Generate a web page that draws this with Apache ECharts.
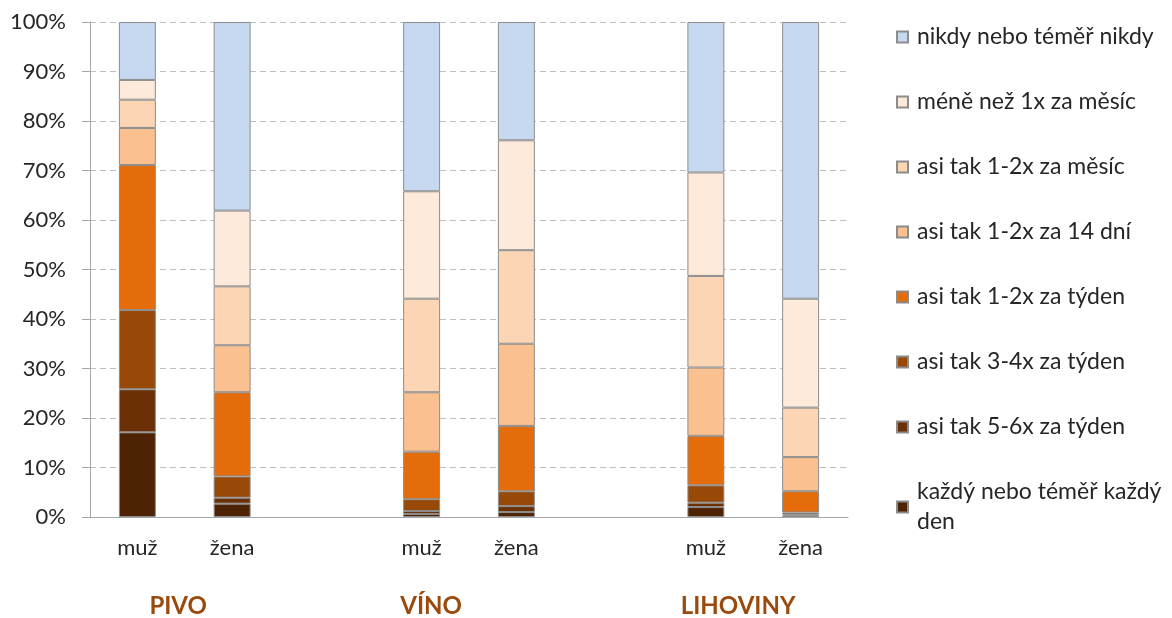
<!DOCTYPE html>
<html><head><meta charset="utf-8">
<script src="https://cdn.jsdelivr.net/npm/echarts@6/dist/echarts.min.js"></script>
<style>html,body{margin:0;padding:0;background:#fff}#c{width:1172px;height:618px}</style>
</head><body><div id="c"></div>
<script>
const categories = ['muž', 'žena', '', 'muž', 'žena', '', 'muž', 'žena'];
const groupLabels = ['PIVO', 'VÍNO', 'LIHOVINY'];
const groupPositions = [0.93, 3.6, 6.84]; // in category-slot units from the left edge
const yTicks = [0, 10, 20, 30, 40, 50, 60, 70, 80, 90, 100];

// values in %, order of categories (blank slots = null)
const kazdy   = [17.1, 2.7, null, 0.6, 1.0, null, 2.0, 0.3];
const t56     = [8.7, 1.2, null, 0.6, 1.2, null, 0.9, 0.2];
const t34     = [16.0, 4.3, null, 2.4, 3.0, null, 3.5, 0.4];
const tyden   = [29.3, 17.0, null, 9.6, 13.2, null, 10.0, 4.3];
const dni14   = [7.5, 9.5, null, 12.0, 16.6, null, 13.8, 6.9];
const mesic   = [5.7, 11.9, null, 18.9, 18.9, null, 18.5, 10.0];
const mene    = [4.0, 15.3, null, 21.7, 22.2, null, 20.9, 22.0];
const nikdy   = [11.7, 38.1, null, 34.2, 23.9, null, 30.4, 55.9];

const seriesDefs = [
  ['každý nebo téměř každý den', kazdy, '#4E2304'],
  ['asi tak 5-6x za týden', t56, '#6B3006'],
  ['asi tak 3-4x za týden', t34, '#984807'],
  ['asi tak 1-2x za týden', tyden, '#E46C0A'],
  ['asi tak 1-2x za 14 dní', dni14, '#FAC090'],
  ['asi tak 1-2x za měsíc', mesic, '#FCD5B5'],
  ['méně než 1x za měsíc', mene, '#FDEADA'],
  ['nikdy nebo téměř nikdy', nikdy, '#C6D9F1']
];

const font = 'Lato, "Open Sans", sans-serif';
const chart = echarts.init(document.getElementById('c'), null, {renderer: 'canvas'});
chart.setOption({
  animation: false,
  textStyle: {fontFamily: font},
  grid: {left: 90, right: 324, top: 22, bottom: 101},
  legend: {
    orient: 'vertical', left: 896, top: 22, padding: 0,
    itemWidth: 11, itemHeight: 11, itemGap: 35,
    icon: 'rect',
    data: seriesDefs.map(s => s[0]).reverse(),
    formatter: n => n === 'každý nebo téměř každý den' ? 'každý nebo téměř každý\nden' : n,
    textStyle: {fontSize: 23, color: '#262626', fontFamily: font, lineHeight: 30, padding: [0, 0, 0, 4]}
  },
  xAxis: [{
    type: 'category', data: categories,
    axisLine: {lineStyle: {color: '#A6A6A6'}},
    axisTick: {length: 8, lineStyle: {color: '#A6A6A6'}},
    axisLabel: {fontSize: 22, color: '#262626', margin: 20, fontFamily: font, interval: 0}
  }, {
    type: 'value', min: 0, max: 8, position: 'bottom',
    show: false
  }],
  yAxis: {
    type: 'value', min: 0, max: 100, interval: 10,
    axisLine: {show: true, lineStyle: {color: '#A6A6A6'}},
    axisTick: {show: true, inside: false, length: 8, lineStyle: {color: '#A6A6A6'}},
    axisLabel: {fontSize: 22, color: '#262626', margin: 24, fontFamily: font,
      formatter: v => yTicks.includes(v) ? v + '%' : ''},
    splitLine: {lineStyle: {color: '#BFBFBF', type: [6, 4]}}
  },
  series: seriesDefs.map(([name, data, color]) => ({
    name, type: 'bar', stack: 'total', data, barWidth: '39%', xAxisIndex: 0,
    itemStyle: {color, borderColor: '#8C8C8C', borderWidth: 1}
  }))
});
const gy = chart.getHeight() - 101 + 89;
chart.setOption({
  graphic: groupLabels.map((t, i) => ({
    type: 'text',
    x: chart.convertToPixel({xAxisIndex: 1}, groupPositions[i]),
    y: gy,
    style: {text: t, fontSize: 24, fontWeight: 'bold', fill: '#9A4A0C', fontFamily: font,
      align: 'center', verticalAlign: 'middle'}
  }))
});
</script></body></html>
